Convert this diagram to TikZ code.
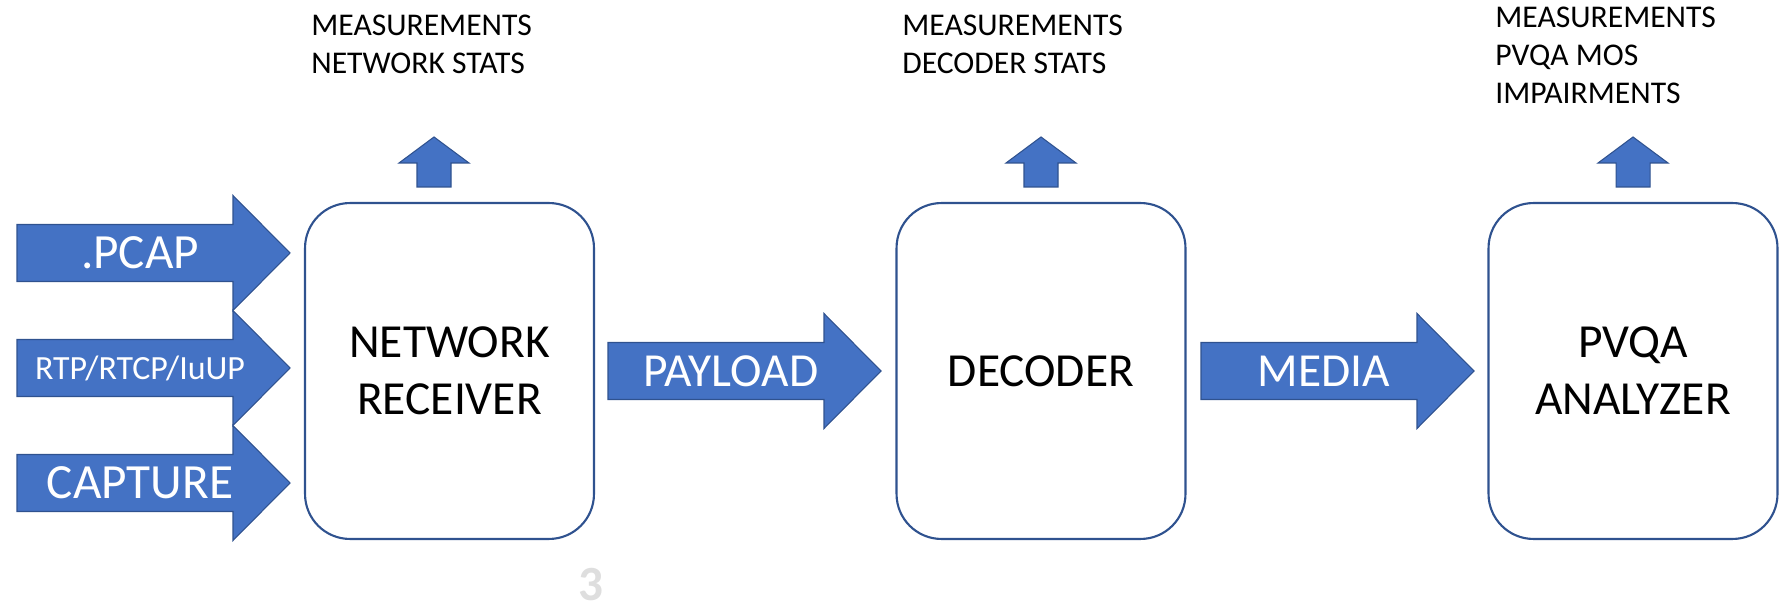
\documentclass[tikz,border=0pt]{standalone}
\usepackage{fontspec}
\setmainfont{Carlito}
\usetikzlibrary{positioning}

\definecolor{officeblue}{RGB}{68,114,196}
\definecolor{officeedge}{RGB}{47,82,143}
\definecolor{pagegray}{RGB}{222,222,222}

\tikzset{
  stage/.style={draw=officeedge, line width=1.2pt, rounded corners=0.9cm,
    minimum width=5.78cm, minimum height=6.72cm, inner sep=0pt, align=center},
  blockfill/.style={fill=officeblue, draw=officeedge, line width=0.6pt},
  stats/.style={anchor=north west, inner sep=0pt, align=left,
    font=\fontsize{18}{21.6}\selectfont},
  % wide block arrow, tail at the pic origin
  fatarrow/.pic={
    \path[blockfill] (0,-28.5) -- (216,-28.5) -- (216,-57.5) -- (273,0)
      -- (216,57.5) -- (216,28.5) -- (0,28.5) -- cycle;
    \node[text=white, inner sep=0pt] (-label) at (123,0) {#1};
  },
  % small arrow pointing up, foot at the pic origin
  uparrow/.pic={
    \path[blockfill] (-17,0) -- (-17,-24) -- (-35,-24) -- (0,-50)
      -- (35,-24) -- (17,-24) -- (17,0) -- cycle;
  },
}

\begin{document}
\begin{tikzpicture}[x=0.02cm, y=-0.02cm, font=\fontsize{27}{32.4}\selectfont]
  \useasboundingbox (0,0) rectangle (1780,607);

  % processing stages
  \node[stage] (receiver) at (449.5,371) {NETWORK\\RECEIVER};
  \node[stage] (decoder)  at (1041,371)  {DECODER};
  \node[stage] (analyzer) at (1633,371)  {PVQA\\ANALYZER};

  % inputs
  \pic[font=\fontsize{28}{30}\selectfont] (pcap) at (17,253) {fatarrow={.PCAP}};
  \pic[font=\fontsize{19.3}{21}\selectfont] (rtp) at (17,368) {fatarrow={RTP/RTCP/IuUP}};
  \pic[font=\fontsize{28}{30}\selectfont] (capture) at (17,483) {fatarrow={CAPTURE}};

  % data passed between stages
  \pic (payload) at (608,371)  {fatarrow={PAYLOAD}};
  \pic (media)   at (1201,371) {fatarrow={MEDIA}};

  % outputs of each stage
  \pic at ([xshift=-0.31cm, yshift=0.3cm]receiver.north) {uparrow};
  \pic at ([yshift=0.3cm]decoder.north) {uparrow};
  \pic at ([yshift=0.3cm]analyzer.north) {uparrow};

  \node[stats] (netstats) at (311,15) {MEASUREMENTS\\NETWORK STATS};
  \node[stats] (decstats) at (902,15) {MEASUREMENTS\\DECODER STATS};
  \node[stats] (mosstats) at (1495,7) {MEASUREMENTS\\PVQA MOS\\IMPAIRMENTS};

  \node[text=pagegray, inner sep=0pt, anchor=base,
    font=\bfseries\fontsize{28}{28}\selectfont] (pageno) at (591,600) {3};
\end{tikzpicture}
\end{document}
